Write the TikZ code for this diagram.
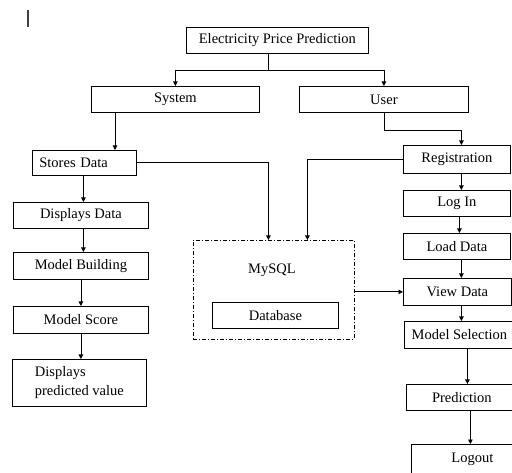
\documentclass[tikz,border=0pt]{standalone}
\usepackage{fontspec}
\setmainfont{Liberation Serif}
\usetikzlibrary{arrows.meta}

\begin{document}
\begin{tikzpicture}[x=1pt,y=-1pt,>={Triangle[length=4.5pt,width=4.5pt]},line width=0.8pt,
  font=\fontsize{14.5}{17}\selectfont,
  box/.style={draw,anchor=north west,inner sep=0pt,align=center},
  dbframe/.style={draw,anchor=north west,inner sep=0pt,dash pattern=on 4pt off 2pt on 1pt off 2pt}]
\useasboundingbox (0,0) rectangle (512,473);
\draw[line width=1.2pt,black!75] (28,10) -- (28,27);
% top level
\node[box,minimum width=182,minimum height=26] (title) at (186,27) {Electricity Price Prediction};
\node[box,minimum width=168,minimum height=26] (system) at (91,86) {System};
\node[box,minimum width=169,minimum height=26] (user) at (299,86) {User};
\coordinate (split) at (268,70);
\draw (split |- title.south) -- (split);
\draw[->] (split) -| (system.north);
\draw[->] (split) -| (user.north);
% system side
\node[box,text width=90,inner xsep=7pt,minimum height=25,align=left] (stores) at (32,150) {Stores Data};
\node[box,minimum width=135,minimum height=26] (displays) at (13,202) {Displays Data};
\node[box,minimum width=135,minimum height=27] (building) at (13,252) {Model Building};
\node[box,minimum width=135,minimum height=27] (score) at (13,306) {Model Score};
\node[box,minimum width=134,minimum height=47,align=left,font=\fontsize{14.5}{19}\selectfont] (predval) at (12,359) {Displays\\predicted value};
\draw[->] ([xshift=24]system.south west) -- ([xshift=24]system.south west |- stores.north);
\draw[->] ([xshift=-1]stores.south) -- ([xshift=-1]stores.south |- displays.north);
\draw[->] ([xshift=2.5]displays.south) -- ([xshift=2.5]displays.south |- building.north);
\draw[->] (building.south) -- (building.south |- score.north);
\draw[->] (score.south) -- (score.south |- predval.north);
% database
\node[dbframe,minimum width=161,minimum height=99] (mysql) at (193,240) {};
\node (mysqllbl) at (272,270) {MySQL};
\node[box,minimum width=126,minimum height=26] (database) at (212,302) {Database};
% user side
\node[box,minimum width=107,minimum height=28] (reg) at (403,145) {Registration};
\node[box,minimum width=107,minimum height=26] (login) at (403,190) {Log In};
\node[box,minimum width=107,minimum height=26] (load) at (403,233) {Load Data};
\node[box,minimum width=108,minimum height=27] (view) at (403,278) {View Data};
\node[box,minimum width=110,minimum height=27] (modsel) at (404,321) {Model Selection};
\node[box,minimum width=111,minimum height=26] (pred) at (406,384) {Prediction};
\node[box,minimum width=122,inner ysep=4pt,text height=14pt,text depth=22pt] (logout) at (411,444) {Logout};
\draw[->] (user.south) -- ++(0,18) -| ([xshift=4.5]reg.north);
\draw[->] ([xshift=4.5]reg.south) -- ([xshift=4.5]reg.south |- login.north);
\draw[->] ([xshift=2.5]login.south) -- ([xshift=2.5]login.south |- load.north);
\draw[->] ([xshift=4.5]load.south) -- ([xshift=4.5]load.south |- view.north);
\draw[->] ([xshift=4]view.south) -- ([xshift=4]view.south |- modsel.north);
\draw[->] ([xshift=8]modsel.south) -- ([xshift=8]modsel.south |- pred.north);
\draw[->] ([xshift=8.5]pred.south) -- ([xshift=8.5]pred.south |- logout.north);
% links to and from the database
\draw[->] (stores.east) -| ([xshift=-5.5]mysql.north);
\draw[->] (reg.west) -| ([xshift=33.5]mysql.north);
\draw[->] (mysql.east |- view.west) -- (view.west);
\end{tikzpicture}
\end{document}
